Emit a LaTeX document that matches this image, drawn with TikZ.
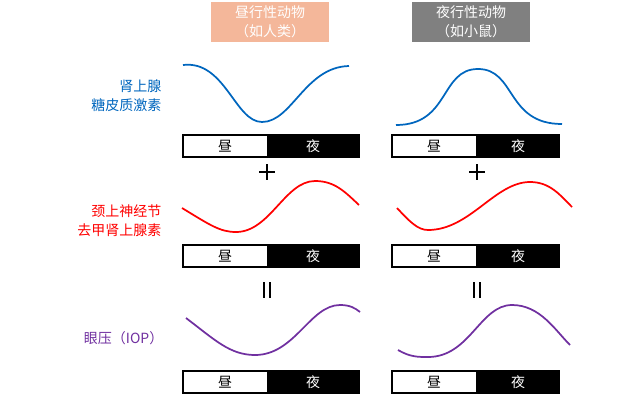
\documentclass[tikz,border=0pt]{standalone}
\usepackage{fontspec}
\setmainfont{Noto Sans CJK SC}
\definecolor{curveblue}{RGB}{0,102,190}
\definecolor{headsalmon}{RGB}{244,183,154}
\definecolor{curvepurple}{RGB}{112,48,160}
\tikzset{
  daybar/.style={draw=black, thick},
  curve/.style={line width=1.3pt},
  txt/.style={font=\fontsize{10.5}{14}\selectfont},
  lbl/.style={txt, align=right, anchor=east},
}
\begin{document}
\begin{tikzpicture}[x=0.75pt, y=-0.75pt]
	\useasboundingbox (0,0) rectangle (624,400);
	% Titel
		\node[txt, fill=headsalmon, minimum width=88.5pt, minimum height=30pt, text=white, align=center, inner sep=0pt] (hday) at (270,22) {昼行性动物\\（如人类）};
		\node[txt, fill=gray, minimum width=88pt, minimum height=30pt, text=white, align=center, inner sep=0pt] (hnight) at (471,22) {夜行性动物\\（如小鼠）};
	% Balken
		\foreach \y in {135,245,371} {
			\draw[daybar, fill=white] (183,\y) rectangle (268,\y+22);
			\draw[daybar, fill=black] (268,\y) rectangle (359,\y+22);
			\node[txt] at (225,\y+11) {昼};
			\node[txt, text=white] at (313,\y+11) {夜};
			\draw[daybar, fill=white] (392,\y) rectangle (477,\y+22);
			\draw[daybar, fill=black] (477,\y) rectangle (559,\y+22);
			\node[txt] at (434,\y+11) {昼};
			\node[txt, text=white] at (518,\y+11) {夜};
		}
	% Zeichen
		\foreach \x in {267,477} {
			\draw[thick] (\x-8,172) -- (\x+8,172) (\x,164) -- (\x,180);
			\draw[thick] (\x-3,282) -- (\x-3,298) (\x+3,282) -- (\x+3,298);
		}
	% Kurven
		\draw[curve, curveblue] (183,65) .. controls (225,60) and (235,122) .. (262,122) .. controls (292,122) and (305,67) .. (349,66);
		\draw[curve, curveblue] (396,125) .. controls (450,125) and (440,69) .. (478,69) .. controls (516,69) and (506,124) .. (562,124);
		\draw[curve, red] (182,208) .. controls (210,225) and (220,232) .. (236,232) .. controls (270,232) and (285,181) .. (315,181) .. controls (335,181) and (345,192) .. (359,205);
		\draw[curve, red] (397,208) .. controls (410,222) and (418,230) .. (428,230) .. controls (470,230) and (495,182) .. (530,182) .. controls (550,182) and (560,195) .. (572,207);
		\draw[curve, curvepurple] (186,318) .. controls (215,340) and (230,355) .. (255,355) .. controls (295,355) and (310,305) .. (340,305) .. controls (350,305) and (355,308) .. (360,312);
		\draw[curve, curvepurple] (398,350) .. controls (410,357) and (418,357) .. (428,357) .. controls (470,357) and (480,305) .. (512,305) .. controls (540,305) and (555,330) .. (570,345);
	% Beschriftung
		\node[lbl, text=curveblue] (lcort) at (166,96) {肾上腺\\糖皮质激素};
		\node[lbl, text=red] (lnora) at (166,221) {颈上神经节\\去甲肾上腺素};
		\node[lbl, text=curvepurple] (liop) at (168,338) {眼压（IOP）};
\end{tikzpicture}
\end{document}
